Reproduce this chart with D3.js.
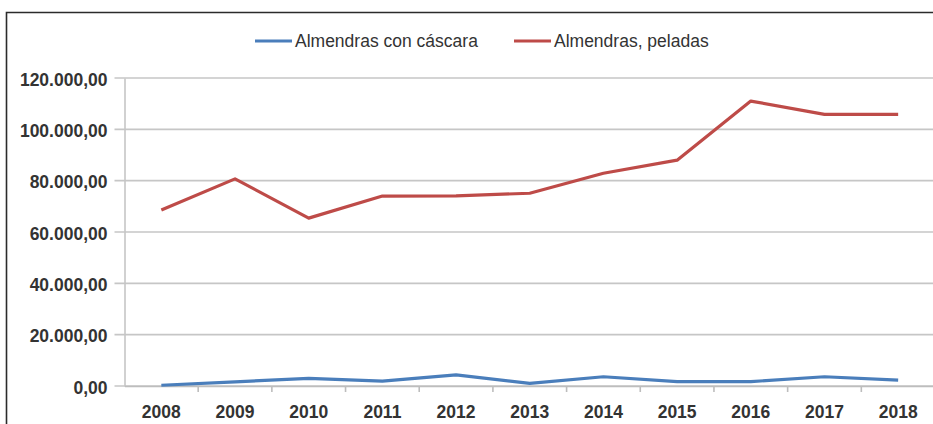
<!DOCTYPE html>
<html>
<head>
<meta charset="utf-8">
<script src="https://cdn.jsdelivr.net/npm/d3@7"></script>
<style>
  body { margin: 0; background: white; }
  .chart text { font-family: "Liberation Sans", Arial, sans-serif; fill: #333; }
</style>
</head>
<body>
<div class="chart"></div>
<script>
// datos
var years = ["2008", "2009", "2010", "2011", "2012", "2013", "2014", "2015", "2016", "2017", "2018"];
var conCascara = [300, 1600, 3000, 1900, 4300, 1000, 3600, 1700, 1700, 3600, 2300];
var peladas = [68600, 80700, 65400, 74000, 74100, 75100, 82900, 88000, 111000, 105800, 105800];
var seriesNames = ["Almendras con cáscara", "Almendras, peladas"];
var seriesColors = ["#4a7ebb", "#be4b48"];
var yTicks = [0, 20000, 40000, 60000, 80000, 100000, 120000];

var width = 933, height = 424;
var margin = { top: 78, left: 124.5, bottom: 38, right: -2 };

var svg = d3.select(".chart").append("svg")
    .attr("width", width)
    .attr("height", height);

// marco
svg.append("path")
    .attr("d", "M6.5," + height + "V12.5H" + width)
    .attr("fill", "none")
    .attr("stroke", "#2b2b2b")
    .attr("stroke-width", 1.6);

var x = d3.scaleBand()
    .domain(years)
    .range([margin.left, width - margin.right])
    .padding(0);

var y = d3.scaleLinear()
    .domain([0, 120000])
    .range([height - margin.bottom, margin.top]);

var es = d3.formatLocale({ decimal: ",", thousands: ".", grouping: [3], currency: ["", "€"] });
var fmt = es.format(",.2f");

// lineas de la grilla
svg.append("g")
    .selectAll("line")
    .data(yTicks)
    .enter()
    .append("line")
    .attr("x1", margin.left - 10)
    .attr("x2", width)
    .attr("y1", d => y(d))
    .attr("y2", d => y(d))
    .attr("stroke", "#c6c6c6")
    .attr("stroke-width", 1.6);

// eje Y
var yAxis = d3.axisLeft(y)
    .tickValues(yTicks)
    .tickFormat(fmt)
    .tickSize(0)
    .tickPadding(17);
var yAxisGroup = svg.append("g")
    .attr("transform", "translate(" + margin.left + ",0)")
    .call(yAxis);
yAxisGroup.select(".domain").attr("stroke", "#c6c6c6").attr("stroke-width", 1.6);
yAxisGroup.selectAll("text")
    .attr("dy", "0.4em")
    .style("font-size", "17.5px")
    .style("font-weight", "bold")
    .style("fill", "#333");

// eje X
var xAxis = d3.axisBottom(x).tickSize(0).tickPadding(20);
var xAxisGroup = svg.append("g")
    .attr("transform", "translate(0," + y(0) + ")")
    .call(xAxis);
xAxisGroup.select(".domain").attr("stroke", "#bdbdbd").attr("stroke-width", 1.6);
xAxisGroup.selectAll("text")
    .style("font-size", "17.5px")
    .style("font-weight", "bold")
    .style("fill", "#333");

// marcas entre categorias
svg.append("g")
    .selectAll("line")
    .data(years.slice(1))
    .enter()
    .append("line")
    .attr("x1", d => x(d))
    .attr("x2", d => x(d))
    .attr("y1", y(0))
    .attr("y2", y(0) + 6)
    .attr("stroke", "#bdbdbd")
    .attr("stroke-width", 1.6);

// lineas
var line = d3.line()
    .x((d, i) => x(years[i]) + x.bandwidth() / 2)
    .y(d => y(d));

[conCascara, peladas].forEach(function (serie, i) {
    svg.append("path")
        .datum(serie)
        .attr("d", line)
        .attr("fill", "none")
        .attr("stroke", seriesColors[i])
        .attr("stroke-width", 3.2)
        .attr("stroke-linejoin", "round");
});

// leyenda
var legendPos = [255, 514];
var legend = svg.append("g")
    .selectAll("g")
    .data(seriesNames)
    .enter()
    .append("g")
    .attr("transform", (d, i) => "translate(" + legendPos[i] + ",41)");
legend.append("line")
    .attr("x1", 0)
    .attr("x2", 37)
    .attr("stroke", (d, i) => seriesColors[i])
    .attr("stroke-width", 3.2);
legend.append("text")
    .attr("x", 40)
    .attr("dy", "0.35em")
    .style("font-size", "17.5px")
    .text(d => d);
</script>
</body>
</html>
